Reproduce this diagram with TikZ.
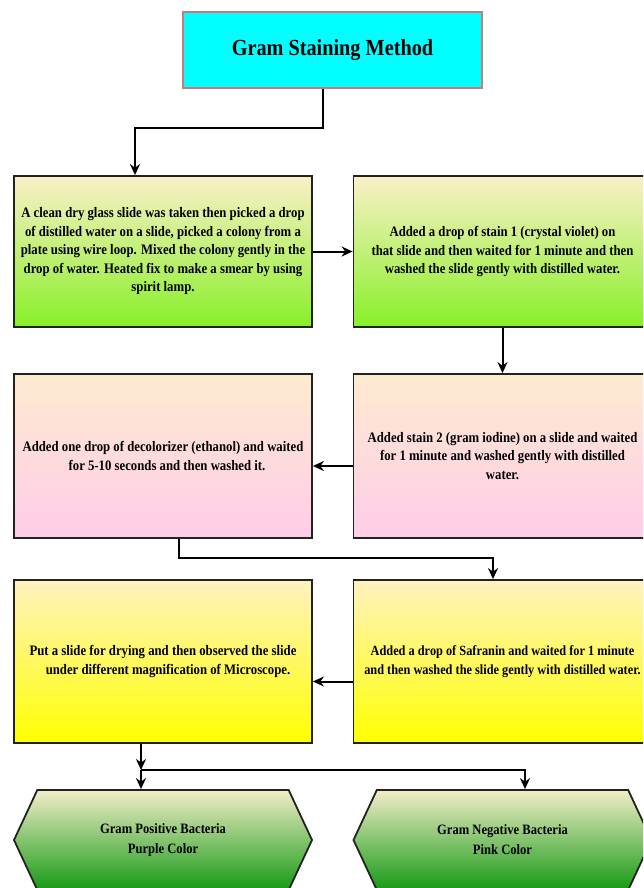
\documentclass[tikz,border=0pt]{standalone}
\usepackage{fontspec}
\setmainfont{Liberation Serif}[FakeStretch=0.88]
\usetikzlibrary{arrows.meta,shapes.symbols,calc}
\definecolor{creamA}{HTML}{FBF0C8}
\definecolor{greenB}{HTML}{88F028}
\definecolor{creamB}{HTML}{FDEBD0}
\definecolor{pinkB}{HTML}{FFCCE8}
\definecolor{creamC}{HTML}{FFF2C0}
\definecolor{yellowC}{HTML}{FFFF00}
\definecolor{hexTop}{HTML}{F3EDC8}
\definecolor{hexBot}{HTML}{159A15}
\definecolor{titleFill}{HTML}{00FFFF}
\definecolor{titleBorder}{HTML}{C47C7C}
\definecolor{edge}{HTML}{222222}
\tikzset{
  stepbox/.style={rectangle, draw=edge, line width=1.8pt, minimum width=298pt, minimum height=151pt,
    align=center, inner sep=0pt, font=\fontsize{14.5}{18.5}\selectfont\bfseries},
  rowA/.style={stepbox, top color=creamA, bottom color=greenB},
  rowB/.style={stepbox, top color=creamB, bottom color=pinkB, minimum height=164pt},
  rowC/.style={stepbox, top color=creamC, bottom color=yellowC, minimum height=163pt},
  hexbox/.style={signal, signal to=west and east, signal pointer angle=130, draw=edge, line width=1.8pt,
    minimum width=298pt, minimum height=100pt, inner sep=0pt, top color=hexTop, bottom color=hexBot,
    align=center, font=\fontsize{14.3}{20}\selectfont\bfseries},
  arr/.style={draw=black, line width=2pt, -{Stealth[length=11pt,width=10pt]}},
}
\begin{document}
\begin{tikzpicture}[x=1pt,y=-1pt]
\clip (0,0) rectangle (643,888);
\fill[white] (0,0) rectangle (643,888);
\node[rectangle, draw=titleBorder, line width=1.6pt, fill=titleFill, minimum width=299pt, minimum height=76pt,
  font=\fontsize{23}{27}\selectfont\bfseries] (title) at (332.5,50) {Gram Staining Method};

\node[rowA] (b1) at (163,251.5) {A clean dry glass slide was taken then picked a drop\\of distilled water on a slide, picked a colony from a\\plate using wire loop. Mixed the colony gently in the\\drop of water. Heated fix to make a smear by using\\spirit lamp.};
\node[rowA] (b2) at (502.5,251.5) {Added a drop of stain 1 (crystal violet) on\\that slide and then waited for 1 minute and then\\washed the slide gently with distilled water.};

\node[rowB] (b3) at (163,456) {Added one drop of decolorizer (ethanol) and waited\\\hspace*{8pt}for 5-10 seconds and then washed it.};
\node[rowB] (b4) at (502.5,456) {Added stain 2 (gram iodine) on a slide and waited\\for 1 minute and washed gently with distilled\\water.};

\node[rowC] (b5) at (163,661.5) {Put a slide for drying and then observed the slide\\\hspace*{10pt}under different magnification of Microscope.};
\node[rowC, font=\fontsize{14}{18.5}\selectfont\bfseries] (b6) at (502.5,661.5) {Added a drop of Safranin and waited for 1 minute\\and then washed the slide gently with distilled water.};

\node[hexbox] (h1) at (163,840) {\rule{0pt}{4pt}Gram Positive Bacteria\\Purple Color};
\node[hexbox] (h2) at (502.5,840) {\rule{0pt}{4pt}Gram Negative Bacteria\\Pink Color};

\coordinate (j) at (141,770);

\draw[arr] ([xshift=-10pt]title.south) -- ++(0,39) -| ([xshift=-28pt]b1.north);
\draw[arr] (b1.east) -- (b2.west);
\draw[arr] (b2.south) -- (b4.north);
\draw[arr] ([yshift=-10pt]b4.west) -- ([yshift=-10pt]b3.east);
\draw[arr] ([xshift=16pt]b3.south) -- ++(0,19) -| ([xshift=-9.5pt]b6.north);
\draw[arr] ([yshift=-20pt]b6.west) -- ([yshift=-20pt]b5.east);
\draw[arr] ([xshift=-22pt]b5.south) -- (j);
\draw[arr] (j) -- (j |- h1.north);
\draw[arr] (j) -| ([xshift=22.5pt]h2.north);
\end{tikzpicture}
\end{document}
